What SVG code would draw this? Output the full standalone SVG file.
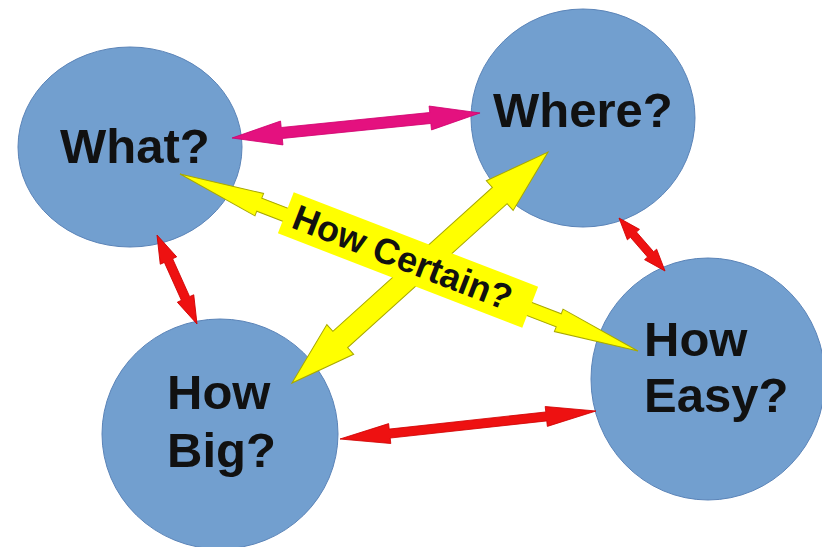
<svg xmlns="http://www.w3.org/2000/svg" width="822" height="547" viewBox="0 0 822 547">
  <style>
    .node { fill: #729fcf; stroke: #5b84b8; stroke-width: 1; }
    .lbl { font-family: "Liberation Sans", Arial, sans-serif; font-weight: bold; font-size: 49px; fill: #111; }
    .pink { fill: #e4117f; stroke: #d0006e; stroke-width: 0.8; }
    .red { fill: #ee1111; stroke: #d00000; stroke-width: 0.8; }
    .yel { fill: #ffff00; stroke: #a8a800; stroke-width: 1; stroke-linejoin: miter; }
    .box { fill: #ffff00; }
    .cert { font-family: "Liberation Sans", Arial, sans-serif; font-weight: bold; font-size: 36px; fill: #111; }
  </style>
  <rect width="822" height="547" fill="#ffffff"/>

  <g id="node-what">
    <ellipse class="node" cx="130" cy="147" rx="112" ry="100"/>
    <text class="lbl" x="60" y="163">What?</text>
  </g>
  <g id="node-where">
    <ellipse class="node" cx="583" cy="118" rx="112" ry="109"/>
    <text class="lbl" x="493" y="127">Where?</text>
  </g>
  <g id="node-big">
    <ellipse class="node" cx="220" cy="434" rx="118" ry="115"/>
    <text class="lbl" x="167" y="409">How</text>
    <text class="lbl" x="167" y="467">Big?</text>
  </g>
  <g id="node-easy">
    <ellipse class="node" cx="708" cy="379" rx="117" ry="121"/>
    <text class="lbl" x="644" y="356">How</text>
    <text class="lbl" x="644" y="412">Easy?</text>
  </g>

  <g id="connectors">
    <g transform="translate(232,138) rotate(-5.76)">
      <polygon class="pink" points="0,0 50,-12 50,-5.5 199.3,-5.5 199.3,-12 249.3,0 199.3,12 199.3,5.5 50,5.5 50,12"/>
    </g>
    <g transform="translate(157,235) rotate(65.8)">
      <polygon class="red" points="0,0 28,-9 28,-4.5 69.6,-4.5 69.6,-9 97.6,0 69.6,9 69.6,4.5 28,4.5 28,9"/>
    </g>
    <g transform="translate(619,218) rotate(49.04)">
      <polygon class="red" points="0,0 22,-8 22,-4 48.2,-4 48.2,-8 70.2,0 48.2,8 48.2,4 22,4 22,8"/>
    </g>
    <g transform="translate(340,439) rotate(-6.24)">
      <polygon class="red" points="0,0 50,-10 50,-4.5 207.5,-4.5 207.5,-10 257.5,0 207.5,10 207.5,4.5 50,4.5 50,10"/>
    </g>
    <g transform="translate(180,174) rotate(21.13)">
      <polygon class="yel" points="0,0 85,-12 85,-7 406,-7 406,-12 491,0 406,12 406,7 85,7 85,12"/>
    </g>
    <g transform="translate(292,383) rotate(-42.06)">
      <polygon class="yel" points="0,0 65,-20 65,-11 279.8,-11 279.8,-20 344.8,0 279.8,20 279.8,11 65,11 65,20"/>
    </g>
    <g id="label-certain" transform="translate(408,260) rotate(21.13)">
      <rect class="box" x="-131" y="-22" width="262" height="44"/>
      <text class="cert" x="-6" y="12" text-anchor="middle">How Certain?</text>
    </g>
  </g>
</svg>
